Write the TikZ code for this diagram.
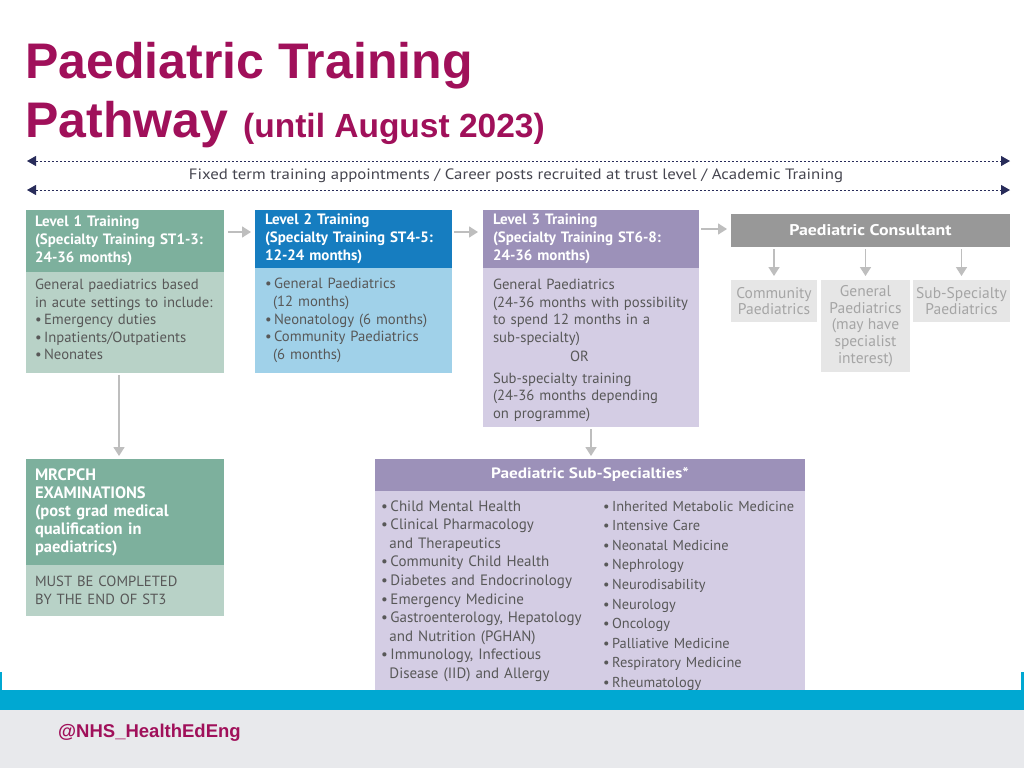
\documentclass[tikz,border=0pt]{standalone}
\usepackage{fontspec}
\setmainfont{PT Sans}
\newfontfamily\arialfont{Liberation Sans}
\usetikzlibrary{arrows.meta}
\definecolor{titlemag}{RGB}{160,16,90}
\definecolor{navy}{RGB}{40,44,90}
\definecolor{sageD}{RGB}{125,176,157}
\definecolor{sageL}{RGB}{184,210,199}
\definecolor{blueD}{RGB}{22,125,192}
\definecolor{blueL}{RGB}{160,209,233}
\definecolor{purD}{RGB}{156,145,185}
\definecolor{purL}{RGB}{212,205,228}
\definecolor{grayD}{RGB}{152,152,152}
\definecolor{grayL}{RGB}{230,230,230}
\definecolor{grayT}{RGB}{165,165,165}
\definecolor{bodyT}{RGB}{88,88,88}
\definecolor{arrowG}{RGB}{190,190,190}
\definecolor{footBlue}{RGB}{0,168,210}
\definecolor{footGray}{RGB}{232,233,236}
\definecolor{fixT}{RGB}{70,70,80}
\tikzset{
  box/.style={rectangle, inner ysep=0pt, inner xsep=9pt, outer sep=0pt, anchor=north west, align=left},
  hdr/.style={box, text=white, font=\bfseries\fontsize{15}{18}\selectfont},
  bdy/.style={box, text=bodyT, font=\fontsize{14.7}{17.6}\selectfont},
  cons/.style={rectangle, inner sep=0pt, outer sep=0pt, anchor=north west, fill=grayL, text=grayT, align=center, font=\fontsize{15.5}{16.8}\selectfont},
  garrow/.style={draw=arrowG, line width=1.6pt, -{Triangle[length=9pt,width=11pt]}},
  dline/.style={draw=navy, line width=0.9pt, dash pattern=on 2.5pt off 1.5pt, {Triangle[length=9pt,width=10pt]}-{Triangle[length=9pt,width=10pt]}},
  ttl/.style={anchor=base west, inner sep=0pt, text=titlemag, font=\arialfont\bfseries\fontsize{50}{58}\selectfont},
}
\begin{document}
\begin{tikzpicture}[x=1pt,y=-1pt]
\useasboundingbox (0,0) rectangle (1024,768);
\fill[white] (0,0) rectangle (1024,768);
% title
\node[ttl] (title1) at (25,78) {Paediatric Training};
\node[ttl] (title2) at (25,137) {Pathway};
\node[ttl, font=\arialfont\bfseries\fontsize{33.5}{40}\selectfont] (title3) at (243,137) {(until August 2023)};
% dashed lines
\coordinate (dl1) at (27,161); \coordinate (dr1) at (1010,161);
\coordinate (dl2) at (27,190); \coordinate (dr2) at (1010,190);
\draw[dline] (dl1) -- (dr1);
\draw[dline] (dl2) -- (dr2);
\node[text=fixT, font=\fontsize{15}{16}\selectfont, inner sep=0pt] (fixed) at (516,176) {\scalebox{1.12}[1]{Fixed term training appointments / Career posts recruited at trust level / Academic Training}};
% Level 1
\node[hdr, fill=sageD, text width=180pt, minimum height=62pt] (l1h) at (26,210)
 {Level 1 Training\\(Specialty Training ST1-3:\\24-36 months)};
\node[bdy, fill=sageL, text width=180pt, minimum height=101pt] (l1b) at (26,272)
 {General paediatrics based\\in acute settings to include:\\\textbullet\,Emergency duties\\\textbullet\,Inpatients/Outpatients\\\textbullet\,Neonates\rule[-6pt]{0pt}{6pt}};
% Level 2
\node[hdr, fill=blueD, text width=177pt, minimum height=58pt, inner xsep=10pt] (l2h) at (255,210)
 {Level 2 Training\\(Specialty Training ST4-5:\\12-24 months)};
\node[bdy, fill=blueL, text width=177pt, minimum height=105pt, inner xsep=10pt] (l2b) at (255,268)
 {\textbullet\,General Paediatrics\\\hspace*{0.55em}(12 months)\\\textbullet\,Neonatology (6 months)\\\textbullet\,Community Paediatrics\\\hspace*{0.55em}(6 months)};
% Level 3
\node[hdr, fill=purD, text width=196pt, minimum height=58pt, inner xsep=10pt] (l3h) at (483,210)
 {Level 3 Training\\(Specialty Training ST6-8:\\24-36 months)};
\node[bdy, fill=purL, text width=196pt, minimum height=159pt, inner xsep=10pt] (l3b) at (483,268)
 {\rule{0pt}{16pt}General Paediatrics\\(24-36 months with possibility\\to spend 12 months in a\\sub-specialty)\\[1.5pt]\hspace*{77pt}OR\\[4pt]Sub-specialty training\\(24-36 months depending\\on programme)};
% Consultant
\node[box, fill=grayD, text=white, font=\bfseries\fontsize{15.5}{18}\selectfont, minimum width=279pt, minimum height=33pt, align=center] (con) at (731,214) {\scalebox{1.15}[1]{Paediatric Consultant}};
\node[cons, minimum width=86pt, minimum height=42pt] (c1) at (731,280) {Community\\Paediatrics};
\node[cons, minimum width=89pt, minimum height=92pt] (c2) at (821,280) {General\\Paediatrics\\(may have\\specialist\\interest)};
\node[cons, minimum width=97pt, minimum height=42pt] (c3) at (913,280) {Sub-Specialty\\Paediatrics};
% MRCPCH
\node[hdr, fill=sageD, text width=180pt, minimum height=106pt, font=\bfseries\fontsize{16.5}{18}\selectfont] (mh) at (26,459)
 {MRCPCH\\EXAMINATIONS\\(post grad medical\\qualification in\\paediatrics)};
\node[bdy, fill=sageL, text width=180pt, minimum height=51pt] (mb) at (26,565)
 {MUST BE COMPLETED\\BY THE END OF ST3};
% Sub-specialties
\node[box, fill=purD, text=white, font=\bfseries\fontsize{15}{18}\selectfont, minimum width=430pt, minimum height=32pt, align=center] (sh) at (375,459) {\scalebox{1.15}[1]{Paediatric Sub-Specialties*}};
\node[box, fill=purL, minimum width=430pt, minimum height=210pt] (sb) at (375,491) {};
\node[anchor=base west, inner sep=0pt, text width=218pt, align=left, text=bodyT, font=\fontsize{15}{18.6}\selectfont] (sl) at (381,511)
 {\textbullet\,Child Mental Health\\\textbullet\,Clinical Pharmacology\\\hspace*{0.55em}and Therapeutics\\\textbullet\,Community Child Health\\\textbullet\,Diabetes and Endocrinology\\\textbullet\,Emergency Medicine\\\textbullet\,Gastroenterology, Hepatology\\\hspace*{0.55em}and Nutrition (PGHAN)\\\textbullet\,Immunology, Infectious\\\hspace*{0.55em}Disease (IID) and Allergy};
\node[anchor=base west, inner sep=0pt, text width=200pt, align=left, text=bodyT, font=\fontsize{14.4}{19.6}\selectfont] (sr) at (603,511)
 {\textbullet\,Inherited Metabolic Medicine\\\textbullet\,Intensive Care\\\textbullet\,Neonatal Medicine\\\textbullet\,Nephrology\\\textbullet\,Neurodisability\\\textbullet\,Neurology\\\textbullet\,Oncology\\\textbullet\,Palliative Medicine\\\textbullet\,Respiratory Medicine\\\textbullet\,Rheumatology};
% arrows
\path ([yshift=9pt]l1h.east) coordinate (a1s);
\path (l2h.west |- a1s) coordinate (a1e);
\draw[garrow] ([xshift=4pt]a1s) -- ([xshift=-4pt]a1e);
\path ([yshift=7pt]l2h.east) coordinate (a2s);
\path (l3h.west |- a2s) coordinate (a2e);
\draw[garrow] ([xshift=2pt]a2s) -- ([xshift=-5pt]a2e);
\path ([yshift=10pt]l3h.east) coordinate (a3s);
\path (con.west |- a3s) coordinate (a3e);
\draw[garrow] ([xshift=2pt]a3s) -- ([xshift=-4pt]a3e);
\path (con.south -| c1.north) coordinate (k1);
\path (con.south -| c2.north) coordinate (k2);
\path (con.south -| c3.north) coordinate (k3);
\draw[garrow] ([yshift=-2pt]k1) -- ([yshift=4pt]c1.north);
\draw[garrow] ([yshift=-2pt]k2) -- ([yshift=4pt]c2.north);
\draw[garrow] ([yshift=-2pt]k3) -- ([yshift=4pt]c3.north);
\path ([xshift=-6pt]l1b.south) coordinate (m1);
\path (m1 |- mh.north) coordinate (m2);
\draw[garrow] ([yshift=-2pt]m1) -- ([yshift=3pt]m2);
\path (l3b.south |- sh.north) coordinate (s2);
\draw[garrow] ([yshift=-2pt]l3b.south) -- ([yshift=3pt]s2);
% footer
\fill[footBlue] (0,690) rectangle (1024,710);
\fill[footGray] (0,710) rectangle (1024,768);
\fill[footBlue] (0,672) rectangle (2,690);
\fill[footBlue] (1021,672) rectangle (1024,690);
\node[anchor=base west, inner sep=0pt, text=titlemag, font=\arialfont\bfseries\fontsize{18.5}{22}\selectfont] (handle) at (58,737) {@NHS\_HealthEdEng};
\end{tikzpicture}
\end{document}
